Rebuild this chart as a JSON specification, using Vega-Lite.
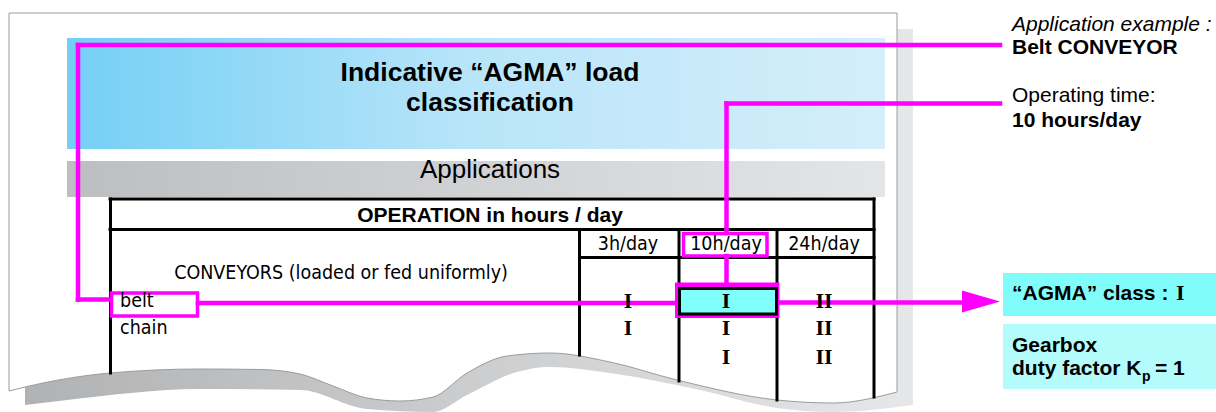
{
  "$schema": "https://vega.github.io/schema/vega-lite/v6.json",
  "width": 1216,
  "height": 412,
  "autosize": {"type": "fit", "contains": "padding"},
  "padding": 0,
  "background": "white",
  "config": {"view": {"stroke": null}},
  "encoding": {
    "x": {"field": "x", "type": "quantitative", "scale": {"domain": [0, 1216], "nice": false, "zero": false}, "axis": null},
    "y": {"field": "y", "type": "quantitative", "scale": {"domain": [0, 412], "nice": false, "zero": false, "reverse": true}, "axis": null}
  },
  "layer": [
    {
      "data": {"values": [
        {"x": 25, "y": 29, "y2": 405}, {"x": 67, "y": 29, "y2": 400}, {"x": 200, "y": 29, "y2": 389},
        {"x": 300, "y": 29, "y2": 390}, {"x": 367, "y": 29, "y2": 409}, {"x": 433, "y": 29, "y2": 412},
        {"x": 467, "y": 29, "y2": 395}, {"x": 517, "y": 29, "y2": 372}, {"x": 550, "y": 29, "y2": 367},
        {"x": 610, "y": 29, "y2": 373}, {"x": 700, "y": 29, "y2": 390}, {"x": 777, "y": 29, "y2": 408},
        {"x": 833, "y": 29, "y2": 412}, {"x": 913, "y": 29, "y2": 405}
      ]},
      "mark": {"type": "area", "interpolate": "monotone", "color": {"gradient": "linear", "x1": 0, "x2": 1, "y1": 0, "y2": 0, "stops": [{"offset": 0, "color": "#b1b2b4"}, {"offset": 1, "color": "#e6e7e8"}]}},
      "encoding": {"y2": {"field": "y2"}}
    },
    {
      "data": {"values": [
        {"x": 9, "y": 13, "y2": 391}, {"x": 25, "y": 13, "y2": 387}, {"x": 110, "y": 13, "y2": 373},
        {"x": 200, "y": 13, "y2": 369}, {"x": 260, "y": 13, "y2": 369.5}, {"x": 300, "y": 13, "y2": 374},
        {"x": 333, "y": 13, "y2": 386}, {"x": 367, "y": 13, "y2": 398}, {"x": 400, "y": 13, "y2": 401},
        {"x": 433, "y": 13, "y2": 397}, {"x": 467, "y": 13, "y2": 373}, {"x": 507, "y": 13, "y2": 356},
        {"x": 550, "y": 13, "y2": 353}, {"x": 610, "y": 13, "y2": 362}, {"x": 677, "y": 13, "y2": 380},
        {"x": 777, "y": 13, "y2": 400}, {"x": 833, "y": 13, "y2": 403}, {"x": 897, "y": 13, "y2": 392}
      ]},
      "mark": {"type": "area", "interpolate": "monotone", "fill": "white", "stroke": "#9c9c9c", "strokeWidth": 1},
      "encoding": {"y2": {"field": "y2"}}
    },
    {
      "data": {"values": [{"x": 67, "x2": 885, "y": 38, "y2": 149}]},
      "mark": {"type": "rect", "color": {"gradient": "linear", "x1": 0, "x2": 1, "y1": 0, "y2": 0, "stops": [{"offset": 0, "color": "#74cff5"}, {"offset": 0.5, "color": "#b9e5f9"}, {"offset": 1, "color": "#d5eefa"}]}},
      "encoding": {"x2": {"field": "x2"}, "y2": {"field": "y2"}}
    },
    {
      "data": {"values": [{"x": 67, "x2": 885, "y": 161, "y2": 197}]},
      "mark": {"type": "rect", "color": {"gradient": "linear", "x1": 0, "x2": 1, "y1": 0, "y2": 0, "stops": [{"offset": 0, "color": "#bdbec1"}, {"offset": 1, "color": "#e4e5e7"}]}},
      "encoding": {"x2": {"field": "x2"}, "y2": {"field": "y2"}}
    },
    {
      "data": {"values": [
        {"x": 110, "y": 199, "x2": 874, "y2": 199},
        {"x": 110, "y": 229.5, "x2": 874, "y2": 229.5},
        {"x": 579.5, "y": 257.5, "x2": 874, "y2": 257.5},
        {"x": 110.5, "y": 199, "x2": 110.5, "y2": 373},
        {"x": 874, "y": 199, "x2": 874, "y2": 397},
        {"x": 579.5, "y": 229.5, "x2": 579.5, "y2": 355},
        {"x": 679, "y": 229.5, "x2": 679, "y2": 381},
        {"x": 777, "y": 229.5, "x2": 777, "y2": 400}
      ]},
      "mark": {"type": "rule", "color": "black", "strokeWidth": 3, "strokeCap": "square"},
      "encoding": {"x2": {"field": "x2"}, "y2": {"field": "y2"}}
    },
    {
      "data": {"values": [
        {"x": 1003, "x2": 1216, "y": 273, "y2": 316, "box": "class"}
      ]},
      "mark": {"type": "rect", "color": "#80fcfa"},
      "encoding": {"x2": {"field": "x2"}, "y2": {"field": "y2"}}
    },
    {
      "data": {"values": [
        {"x": 1003, "x2": 1216, "y": 324, "y2": 389, "box": "factor"}
      ]},
      "mark": {"type": "rect", "color": "#b4fcfc"},
      "encoding": {"x2": {"field": "x2"}, "y2": {"field": "y2"}}
    },
    {
      "data": {"values": [
        {"x": 78, "y": 45, "x2": 1000, "y2": 45},
        {"x": 78, "y": 45, "x2": 78, "y2": 299.5},
        {"x": 78, "y": 299.5, "x2": 110, "y2": 299.5},
        {"x": 198, "y": 303, "x2": 676, "y2": 303},
        {"x": 778, "y": 302.5, "x2": 964, "y2": 302.5},
        {"x": 726.5, "y": 103.5, "x2": 1000, "y2": 103.5},
        {"x": 726.5, "y": 103.5, "x2": 726.5, "y2": 233},
        {"x": 726.5, "y": 256, "x2": 726.5, "y2": 284}
      ]},
      "mark": {"type": "rule", "color": "#ff00ff", "strokeWidth": 4.5, "strokeCap": "square"},
      "encoding": {"x2": {"field": "x2"}, "y2": {"field": "y2"}}
    },
    {
      "data": {"values": [{"x": 962, "y": 290.5, "y2": 312.5}, {"x": 1000, "y": 301.5, "y2": 301.5}]},
      "mark": {"type": "area", "interpolate": "linear", "color": "#ff00ff"},
      "encoding": {"y2": {"field": "y2"}}
    },
    {
      "data": {"values": [
        {"x": 111.5, "x2": 197.5, "y": 293, "y2": 316},
        {"x": 683.5, "x2": 767, "y": 233.5, "y2": 256}
      ]},
      "mark": {"type": "rect", "fill": null, "fillOpacity": 0, "stroke": "#ff00ff", "strokeWidth": 3.5},
      "encoding": {"x2": {"field": "x2"}, "y2": {"field": "y2"}}
    },
    {
      "data": {"values": [{"x": 677, "x2": 777.5, "y": 284.5, "y2": 316}]},
      "mark": {"type": "rect", "fill": "#ff00ff", "stroke": "#ff00ff", "strokeWidth": 4},
      "encoding": {"x2": {"field": "x2"}, "y2": {"field": "y2"}}
    },
    {
      "data": {"values": [{"x": 679.5, "x2": 776.5, "y": 288.5, "y2": 314}]},
      "mark": {"type": "rect", "fill": "#7ffffc", "stroke": "#000000", "strokeWidth": 3},
      "encoding": {"x2": {"field": "x2"}, "y2": {"field": "y2"}}
    },
    {
      "data": {"values": [
        {"x": 490, "y": 81, "t": "Indicative “AGMA” load"},
        {"x": 490, "y": 111, "t": "classification"}
      ]},
      "mark": {"type": "text", "font": "Liberation Sans, Arial, Helvetica, sans-serif", "fontSize": 26.5, "fontWeight": "bold", "align": "center", "baseline": "alphabetic", "color": "black"},
      "encoding": {"text": {"field": "t"}}
    },
    {
      "data": {"values": [{"x": 490, "y": 178, "t": "Applications"}]},
      "mark": {"type": "text", "font": "Liberation Sans, Arial, Helvetica, sans-serif", "fontSize": 26, "align": "center", "baseline": "alphabetic", "color": "black"},
      "encoding": {"text": {"field": "t"}}
    },
    {
      "data": {"values": [{"x": 490, "y": 222, "t": "OPERATION in hours / day"}]},
      "mark": {"type": "text", "font": "Liberation Sans, Arial, Helvetica, sans-serif", "fontSize": 21, "fontWeight": "bold", "align": "center", "baseline": "alphabetic", "color": "black"},
      "encoding": {"text": {"field": "t"}}
    },
    {
      "data": {"values": [
        {"x": 628, "y": 250, "t": "3h/day"},
        {"x": 726, "y": 250, "t": "10h/day"},
        {"x": 824, "y": 250, "t": "24h/day"},
        {"x": 341, "y": 279, "t": "CONVEYORS (loaded or fed uniformly)"}
      ]},
      "mark": {"type": "text", "font": "Liberation Sans Narrow, Arial Narrow, DejaVu Sans Condensed, sans-serif", "fontSize": 19.5, "align": "center", "baseline": "alphabetic", "color": "black"},
      "encoding": {"text": {"field": "t"}}
    },
    {
      "data": {"values": [
        {"x": 120, "y": 307, "t": "belt"},
        {"x": 120, "y": 334, "t": "chain"}
      ]},
      "mark": {"type": "text", "font": "Liberation Sans Narrow, Arial Narrow, DejaVu Sans Condensed, sans-serif", "fontSize": 19.5, "align": "left", "baseline": "alphabetic", "color": "black"},
      "encoding": {"text": {"field": "t"}}
    },
    {
      "data": {"values": [
        {"x": 628, "y": 308, "t": "I"},
        {"x": 628, "y": 335, "t": "I"},
        {"x": 726, "y": 308, "t": "I"},
        {"x": 726, "y": 335, "t": "I"},
        {"x": 726, "y": 364, "t": "I"},
        {"x": 824, "y": 308, "t": "II"},
        {"x": 824, "y": 335, "t": "II"},
        {"x": 824, "y": 364, "t": "II"}
      ]},
      "mark": {"type": "text", "font": "Liberation Serif, Times New Roman, serif", "fontSize": 22, "fontWeight": "bold", "align": "center", "baseline": "alphabetic", "color": "black"},
      "encoding": {"text": {"field": "t"}}
    },
    {
      "data": {"values": [{"x": 1012, "y": 31, "t": "Application example :"}]},
      "mark": {"type": "text", "font": "Liberation Sans, Arial, Helvetica, sans-serif", "fontSize": 21, "fontStyle": "italic", "align": "left", "baseline": "alphabetic", "color": "black"},
      "encoding": {"text": {"field": "t"}}
    },
    {
      "data": {"values": [{"x": 1012, "y": 102, "t": "Operating time:"}]},
      "mark": {"type": "text", "font": "Liberation Sans, Arial, Helvetica, sans-serif", "fontSize": 21, "align": "left", "baseline": "alphabetic", "color": "black"},
      "encoding": {"text": {"field": "t"}}
    },
    {
      "data": {"values": [
        {"x": 1012, "y": 54, "t": "Belt CONVEYOR"},
        {"x": 1012, "y": 127, "t": "10 hours/day"},
        {"x": 1012, "y": 300, "t": "“AGMA” class : "},
        {"x": 1012, "y": 352, "t": "Gearbox"},
        {"x": 1012, "y": 375, "t": "duty factor K"},
        {"x": 1155, "y": 375, "t": "= 1"}
      ]},
      "mark": {"type": "text", "font": "Liberation Sans, Arial, Helvetica, sans-serif", "fontSize": 21, "fontWeight": "bold", "align": "left", "baseline": "alphabetic", "color": "black"},
      "encoding": {"text": {"field": "t"}}
    },
    {
      "data": {"values": [{"x": 1142, "y": 381, "t": "p"}]},
      "mark": {"type": "text", "font": "Liberation Sans, Arial, Helvetica, sans-serif", "fontSize": 14, "fontWeight": "bold", "align": "left", "baseline": "alphabetic", "color": "black"},
      "encoding": {"text": {"field": "t"}}
    },
    {
      "data": {"values": [{"x": 1176, "y": 300, "t": "I"}]},
      "mark": {"type": "text", "font": "Liberation Serif, Times New Roman, serif", "fontSize": 22, "fontWeight": "bold", "align": "left", "baseline": "alphabetic", "color": "black"},
      "encoding": {"text": {"field": "t"}}
    }
  ]
}
